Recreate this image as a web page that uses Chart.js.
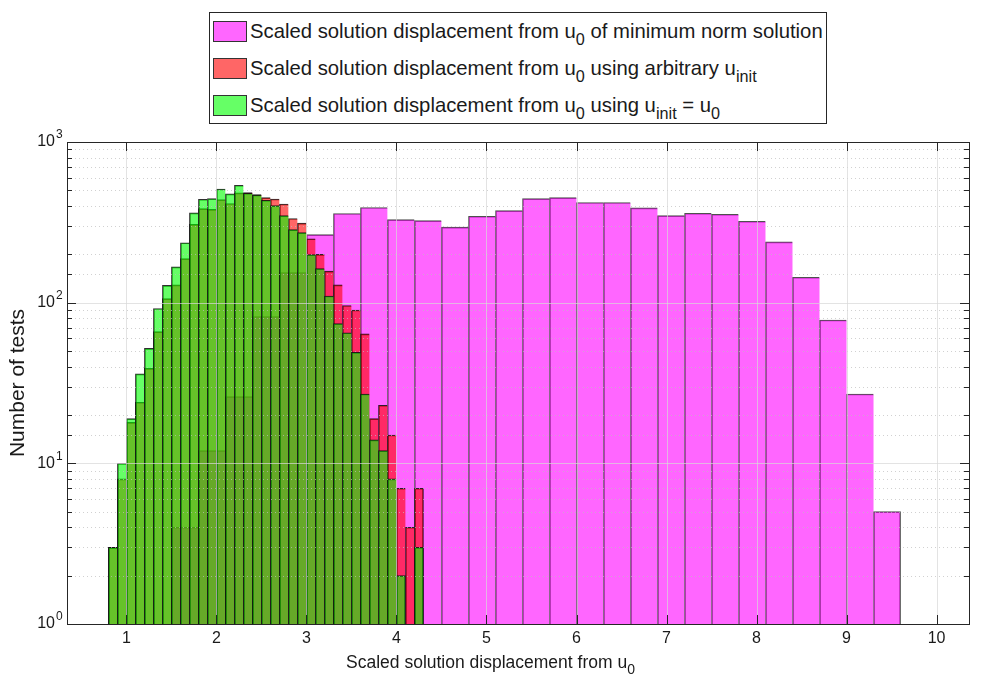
<!DOCTYPE html>
<html>
<head>
<meta charset="utf-8">
<script src="https://cdn.jsdelivr.net/npm/chart.js@4.4.1/dist/chart.umd.min.js"></script>
<style>
  body { margin: 0; background: #fff; }
  #wrap { position: relative; width: 981px; height: 678px; font-family: 'Liberation Sans', Arial, sans-serif; color: #1a1a1a; }
  #legend { position: absolute; left: 209px; top: 12px; width: 616px; height: 110px; border: 1px solid #262626; background: #fff; }
  .row { position: absolute; left: 0; height: 24px; line-height: 24px; font-size: 20.3px; white-space: nowrap; }
  .sw { position: absolute; left: 3px; top: 2px; width: 32px; height: 19px; border: 1px solid #333; }
  .txt { position: absolute; left: 40px; top: 0; }
  sub { font-size: 0.8em; vertical-align: baseline; position: relative; top: 0.42em; }
  #xtitle { position: absolute; left: 0; width: 981px; top: 652px; text-align: center; font-size: 17.5px; line-height: 20px; }
</style>
</head>
<body>
<div id="wrap">
  <canvas id="chart" width="981" height="678"></canvas>
  <div id="legend"></div>
  <div id="xtitle"></div>
</div>
<script>
// bin centres (0.1 wide) for the two fine histograms
const fineBins = [0.85, 0.95, 1.05, 1.15, 1.25, 1.35, 1.45, 1.55, 1.65, 1.75,
  1.85, 1.95, 2.05, 2.15, 2.25, 2.35, 2.45, 2.55, 2.65, 2.75,
  2.85, 2.95, 3.05, 3.15, 3.25, 3.35, 3.45, 3.55, 3.65, 3.75,
  3.85, 3.95, 4.05, 4.15, 4.25];
const arbitraryInit = [3, 8, 18, 24, 39, 66, 106, 129, 188, 307,
  385, 381, 438, 414, 482, 485, 470, 451, 442, 411,
  334, 313, 250, 200, 157, 129, 96, 90, 64, 19,
  23, 15, 7, 4, 7];
const exactInit = [3, 10, 19, 36, 52, 92, 128, 167, 236, 362,
  440, 444, 510, 475, 538, 480, 468, 434, 402, 348,
  285, 273, 199, 163, 110, 74, 65, 49, 27, 14,
  12, 8, 2, null, 3];

// bin centres (0.3 wide) for the minimum norm histogram
const coarseBins = [1.65, 1.95, 2.25, 2.55, 2.85, 3.15, 3.45, 3.75, 4.05, 4.35,
  4.65, 4.95, 5.25, 5.55, 5.85, 6.15, 6.45, 6.75, 7.05, 7.35,
  7.65, 7.95, 8.25, 8.55, 8.85, 9.15, 9.45];
const minNorm = [4, 12, 26, 82, 154, 265, 359, 391, 329, 324,
  295, 345, 374, 444, 451, 420, 420, 389, 348, 360,
  355, 321, 239, 144, 78, 27, 5];

const seriesNames = [
  'Scaled solution displacement from u_0 of minimum norm solution',
  'Scaled solution displacement from u_0 using arbitrary u_init',
  'Scaled solution displacement from u_0 using u_init = u_0'
];
const xTitle = 'Scaled solution displacement from u_0';
const yTitle = 'Number of tests';
const xTicks = [1, 2, 3, 4, 5, 6, 7, 8, 9, 10];

const FONT = "'Liberation Sans', Arial, sans-serif";
const colors = ['rgba(255,0,255,0.6)', 'rgba(255,0,0,0.6)', 'rgba(0,255,0,0.6)'];

function pts(xs, ys) {
  return xs.map((x, i) => ({x: x, y: ys[i]}));
}

// right edge only on the last bar of a run, so neighbours share one line
function edge(ctx) {
  const d = ctx.dataset.data;
  const i = ctx.dataIndex;
  const last = i === d.length - 1 || d[i + 1].y == null;
  return {top: 1, left: 1, right: last ? 1 : 0, bottom: 0};
}

function rich(s) {
  return s.replace(/_(\w+)/g, '<sub>$1</sub>');
}

const isDecade = v => Math.abs(Math.log10(v) - Math.round(Math.log10(v))) < 1e-9;

const axisDecor = {
  id: 'axisDecor',
  afterDatasetsDraw(chart) {
    const {ctx, chartArea: a, scales} = chart;
    const x = scales.x, y = scales.y;
    ctx.save();
    // grid, drawn over the bars like the original
    y.ticks.forEach(t => {
      const py = Math.round(y.getPixelForValue(t.value)) + 0.5;
      ctx.beginPath();
      if (isDecade(t.value)) {
        ctx.setLineDash([]);
        ctx.strokeStyle = 'rgba(215,215,215,0.7)';
      } else {
        ctx.setLineDash([1, 3]);
        ctx.strokeStyle = 'rgba(190,190,190,0.7)';
      }
      ctx.lineWidth = 1;
      ctx.moveTo(a.left, py);
      ctx.lineTo(a.right, py);
      ctx.stroke();
    });
    ctx.setLineDash([]);
    ctx.strokeStyle = 'rgba(215,215,215,0.7)';
    x.ticks.forEach(t => {
      const px = Math.round(x.getPixelForValue(t.value)) + 0.5;
      ctx.beginPath();
      ctx.moveTo(px, a.top);
      ctx.lineTo(px, a.bottom);
      ctx.stroke();
    });
    // box
    ctx.strokeStyle = '#262626';
    ctx.strokeRect(Math.round(a.left) + 0.5, Math.round(a.top) + 0.5,
      Math.round(a.right - a.left), Math.round(a.bottom - a.top));
    // tick marks pointing inwards
    ctx.beginPath();
    y.ticks.forEach(t => {
      const py = Math.round(y.getPixelForValue(t.value)) + 0.5;
      const len = isDecade(t.value) ? 9 : 5;
      ctx.moveTo(a.left, py); ctx.lineTo(a.left + len, py);
      ctx.moveTo(a.right, py); ctx.lineTo(a.right - len, py);
    });
    x.ticks.forEach(t => {
      const px = Math.round(x.getPixelForValue(t.value)) + 0.5;
      ctx.moveTo(px, a.bottom); ctx.lineTo(px, a.bottom - 9);
      ctx.moveTo(px, a.top); ctx.lineTo(px, a.top + 9);
    });
    ctx.stroke();
    // exponents for the 10^n labels
    ctx.fillStyle = '#1a1a1a';
    ctx.font = '12px ' + FONT;
    ctx.textAlign = 'left';
    ctx.textBaseline = 'middle';
    y.ticks.forEach(t => {
      if (!isDecade(t.value)) return;
      const py = y.getPixelForValue(t.value);
      ctx.fillText(String(Math.round(Math.log10(t.value))), a.left - 11, py - 7);
    });
    ctx.restore();
  }
};

const hiddenX = (step) => ({
  type: 'linear', position: 'bottom', display: false, offset: false,
  min: 0.34, max: 10.36,
  grid: {offset: false},
  ticks: {stepSize: step, includeBounds: false}
});

const chart = new Chart(document.getElementById('chart'), {
  type: 'bar',
  data: {
    datasets: [
      {label: seriesNames[0], data: pts(coarseBins, minNorm), xAxisID: 'xm', order: 2,
       backgroundColor: colors[0], borderColor: 'rgba(20,20,20,0.75)', borderWidth: edge, borderSkipped: false},
      {label: seriesNames[1], data: pts(fineBins, arbitraryInit), xAxisID: 'xf', order: 1,
       backgroundColor: colors[1], borderColor: 'rgba(10,10,10,0.85)', borderWidth: edge, borderSkipped: false},
      {label: seriesNames[2], data: pts(fineBins, exactInit), xAxisID: 'xf', order: 0,
       backgroundColor: colors[2], borderColor: 'rgba(10,10,10,0.85)', borderWidth: edge, borderSkipped: false}
    ]
  },
  options: {
    responsive: false,
    animation: false,
    devicePixelRatio: 1,
    grouped: false,
    barPercentage: 1,
    categoryPercentage: 1,
    layout: {padding: {top: 142, right: 12, left: 0, bottom: 0}},
    plugins: {
      legend: {display: false},
      tooltip: {enabled: false}
    },
    scales: {
      x: {
        type: 'linear', position: 'bottom', offset: false,
        min: 0.34, max: 10.36,
        afterBuildTicks: s => { s.ticks = xTicks.map(v => ({value: v})); },
        afterFit: s => { s.height = 54; },
        grid: {display: false, drawTicks: false, offset: false},
        border: {display: false},
        ticks: {
          autoSkip: false, padding: 5, color: '#1a1a1a',
          font: {family: FONT, size: 16}
        }
      },
      xm: hiddenX(0.3),
      xf: hiddenX(0.1),
      y: {
        type: 'logarithmic', position: 'left',
        min: 1, max: 1000,
        afterFit: s => { s.width = 67; },
        grid: {display: false, drawTicks: false},
        border: {display: false},
        ticks: {
          autoSkip: false, padding: 12, color: '#1a1a1a',
          font: {family: FONT, size: 16},
          callback: v => isDecade(v) ? '10' : ''
        },
        title: {
          display: true, text: yTitle, color: '#1a1a1a',
          font: {family: FONT, size: 21}, padding: {top: 6, bottom: 0}
        }
      }
    }
  },
  plugins: [axisDecor]
});

// legend and x label as html so the subscripts come out right
const legend = document.getElementById('legend');
chart.data.datasets.forEach((ds, i) => {
  const row = document.createElement('div');
  row.className = 'row';
  row.style.top = (6 + i * 37) + 'px';
  row.innerHTML = '<div class="sw" style="background:' + ds.backgroundColor + '"></div>' +
    '<div class="txt">' + rich(ds.label) + '</div>';
  legend.appendChild(row);
});
document.getElementById('xtitle').innerHTML = rich(xTitle);
</script>
</body>
</html>
